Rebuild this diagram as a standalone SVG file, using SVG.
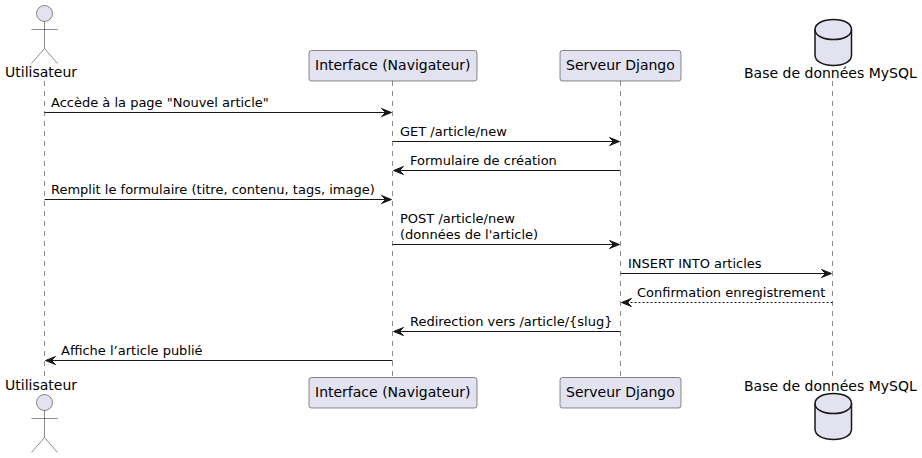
<svg xmlns="http://www.w3.org/2000/svg" width="922" height="458" viewBox="0 0 922 458">
<style>
text{font-family:"DejaVu Sans",sans-serif;font-size:14px;fill:#000}
#labels text{font-size:13px}
.life{stroke:#181818;stroke-width:.5;stroke-dasharray:5,5;fill:none}
.box{fill:#E2E2F0;stroke:#181818;stroke-width:.5}
.db{fill:#E2E2F0;stroke:#181818;stroke-width:1.5}
.dbl{fill:none;stroke:#181818;stroke-width:1.5}
.line{stroke:#181818;stroke-width:1;fill:none}
.dash{stroke-dasharray:2,2}
.head{fill:#181818;stroke:#181818}
.act{fill:#E2E2F0;stroke:#181818;stroke-width:.5}
.actl{fill:none;stroke:#181818;stroke-width:.5}
</style>
<defs>
<g id="actor"><circle class="act" cx="44.5" cy="13.5" r="8"/><path class="actl" d="M44.5 21.5V48.5M31.5 29.5H57.5M44.5 48.5L31.5 63.5M44.5 48.5L57.5 63.5"/></g>
<g id="cyl"><path class="db" d="M815 29.5C815 23.5 823 19.5 833.5 19.5C844 19.5 851.5 23.5 851.5 29.5V55C851.5 61.5 844 65.5 833.5 65.5C823 65.5 815 61.5 815 55Z"/><path class="dbl" d="M815 29.5C815 35.5 823 39.5 833.5 39.5C844 39.5 851.5 35.5 851.5 29.5"/></g>
<path id="ah" d="M-10-4L0 0L-10 4L-6 0Z"/>
</defs>
<g id="connectors">
<path class="life" d="M44.5 81V377"/>
<path class="life" d="M392.5 81V377"/>
<path class="life" d="M620.5 81V377"/>
<path class="life" d="M832.5 81V377"/>
<line class="line" x1="44.5" y1="112.5" x2="388" y2="112.5"/><use href="#ah" class="head" transform="translate(391.5 112.5)"/>
<line class="line" x1="392.5" y1="141.5" x2="616" y2="141.5"/><use href="#ah" class="head" transform="translate(619.5 141.5)"/>
<line class="line" x1="620.5" y1="170.5" x2="397" y2="170.5"/><use href="#ah" class="head" transform="translate(393.5 170.5) scale(-1 1)"/>
<line class="line" x1="44.5" y1="199.5" x2="388" y2="199.5"/><use href="#ah" class="head" transform="translate(391.5 199.5)"/>
<line class="line" x1="392.5" y1="244.5" x2="616" y2="244.5"/><use href="#ah" class="head" transform="translate(619.5 244.5)"/>
<line class="line" x1="620.5" y1="273.5" x2="828" y2="273.5"/><use href="#ah" class="head" transform="translate(831.5 273.5)"/>
<line class="line dash" x1="832.5" y1="302.5" x2="625" y2="302.5"/><use href="#ah" class="head" transform="translate(621.5 302.5) scale(-1 1)"/>
<line class="line" x1="620.5" y1="331.5" x2="397" y2="331.5"/><use href="#ah" class="head" transform="translate(393.5 331.5) scale(-1 1)"/>
<line class="line" x1="392.5" y1="360.5" x2="49" y2="360.5"/><use href="#ah" class="head" transform="translate(45.5 360.5) scale(-1 1)"/>
</g>
<g id="labels">
<text x="51" y="107">Accède à la page "Nouvel article"</text>
<text x="400" y="136">GET /article/new</text>
<text x="410" y="165">Formulaire de création</text>
<text x="51" y="194">Remplit le formulaire (titre, contenu, tags, image)</text>
<text x="400" y="223">POST /article/new</text>
<text x="400" y="239">(données de l'article)</text>
<text x="628" y="268">INSERT INTO articles</text>
<text x="637" y="297">Confirmation enregistrement</text>
<text x="410" y="326">Redirection vers /article/{slug}</text>
<text x="61" y="355">Affiche l’article publié</text>
</g>
<g id="actor-top"><use href="#actor"/><text x="5" y="77">Utilisateur</text></g>
<g id="interface-top"><rect class="box" x="309" y="50.5" width="168" height="30.5" rx="2.5"/><text x="315" y="70">Interface (Navigateur)</text></g>
<g id="serveur-top"><rect class="box" x="560" y="50.5" width="121" height="30.5" rx="2.5"/><text x="566" y="70">Serveur Django</text></g>
<g id="db-top"><use href="#cyl"/><text x="744" y="78">Base de données MySQL</text></g>
<g id="actor-bottom"><use href="#actor" transform="translate(0 389)"/><text x="5" y="390">Utilisateur</text></g>
<g id="interface-bottom"><rect class="box" x="309" y="377.5" width="168" height="30.5" rx="2.5"/><text x="315" y="397">Interface (Navigateur)</text></g>
<g id="serveur-bottom"><rect class="box" x="560" y="377.5" width="121" height="30.5" rx="2.5"/><text x="566" y="397">Serveur Django</text></g>
<g id="db-bottom"><use href="#cyl" transform="translate(0 374)"/><text x="744" y="391">Base de données MySQL</text></g>
</svg>
